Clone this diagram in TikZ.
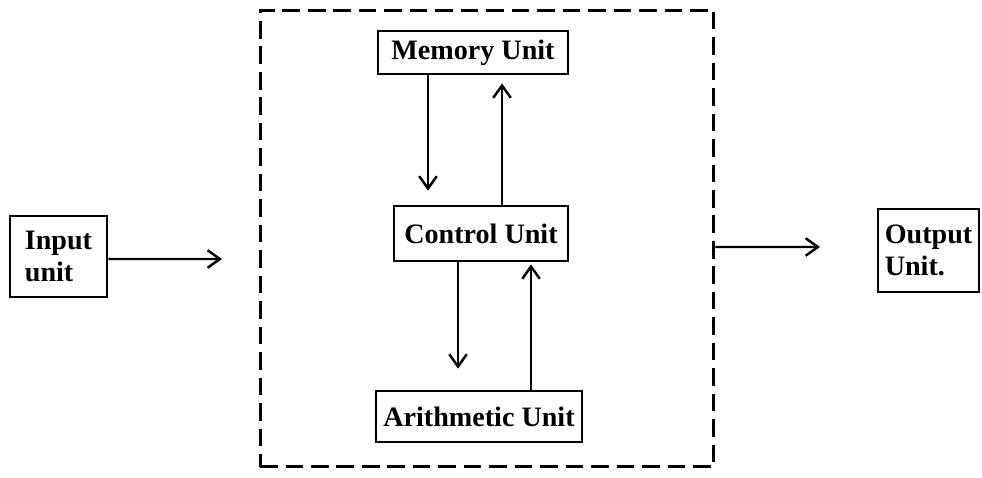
\documentclass[tikz,border=0pt]{standalone}
\usepackage{fontspec}
\setmainfont{Liberation Serif}
\usetikzlibrary{arrows.meta, positioning, calc}

\begin{document}
\begin{tikzpicture}[
    x=0.02cm, y=-0.02cm,
    block/.style={draw, line width=1.6pt, inner sep=3pt, align=left, font=\fontsize{16}{18}\selectfont\bfseries},
    arrow/.style={-{Straight Barb[length=7pt, width=10pt, line width=1.4pt]}, line width=1.2pt},
    frame/.style={draw, line width=1.7pt, dash pattern=on 10pt off 4.5pt}
]
    \useasboundingbox (0,0) rectangle (982,477);

    % Central processing part
    \node[frame, minimum width=9.08cm, minimum height=9.14cm] (cpu) at (487,238.5) {};

    % Units inside
    \node[block, minimum width=3.8cm, minimum height=0.86cm] (mem) at (473,52.5) {Memory Unit};
    \node[block, minimum width=3.48cm, minimum height=1.1cm] (ctrl) at (481,233.5) {Control Unit};
    \node[block, minimum width=4.12cm, minimum height=1.02cm] (arith) at (479,416.5) {Arithmetic Unit};

    % Input and output
    \node[block, minimum width=1.94cm, minimum height=1.62cm] (in) at (58.5,256.5) {Input\\unit};
    \node[block, minimum width=2.02cm, minimum height=1.66cm] (out) at (928.5,250.5) {Output\\Unit.};

    \coordinate (inend) at (222,259);
    \coordinate (outend) at (820,247);

    % Arrows
    \draw[arrow] ($(in.east)+(0,2.5)$) -- (inend);
    \draw[arrow] ($(cpu.east)+(0,8.5)$) -- (outend);
    \draw[arrow] ($(mem.south)+(-45,0)$) -- ($(ctrl.north)+(-53,-14)$);
    \draw[arrow] ($(ctrl.north)+(21,0)$) -- ($(mem.south)+(29,8)$);
    \draw[arrow] ($(ctrl.south)+(-23,0)$) -- ($(arith.north)+(-21,-21)$);
    \draw[arrow] ($(arith.north)+(52,0)$) -- ($(ctrl.south)+(50,2)$);

\end{tikzpicture}
\end{document}
